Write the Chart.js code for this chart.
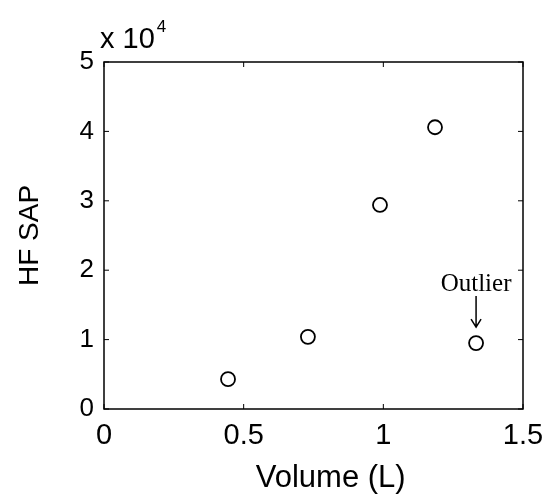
<!DOCTYPE html>
<html>
<head>
<meta charset="utf-8">
<script src="https://cdn.jsdelivr.net/npm/chart.js@4"></script>
<style>
  html, body { margin: 0; padding: 0; background: #fff; }
  #wrap { width: 547px; height: 497px; }
</style>
</head>
<body>
<div id="wrap"><canvas id="sapChart"></canvas></div>
<script>
// HF SAP against volume
var volume = [0.444, 0.730, 0.988, 1.185, 1.332];
var hfSap = [4300, 10400, 29400, 40600, 9500];
var xTicks = [0, 0.5, 1, 1.5];
var yTicks = [0, 1, 2, 3, 4, 5];   // in units of 10^4
var yExponent = 4;
var outlierIndex = 4;
var outlierText = 'Outlier';

var sansFont = "'Liberation Sans', Arial, sans-serif";

// box around the axes plus inward tick marks, MATLAB style
var axesBox = {
  id: 'axesBox',
  afterDraw: function (chart) {
    var c = chart.ctx, a = chart.chartArea;
    var xs = chart.scales.x, ys = chart.scales.y;
    c.save();
    c.strokeStyle = '#000';
    c.lineWidth = 1.5;
    c.strokeRect(a.left, a.top, a.right - a.left, a.bottom - a.top);
    c.lineWidth = 1;
    c.beginPath();
    xTicks.forEach(function (v) {
      var px = xs.getPixelForValue(v);
      c.moveTo(px, a.bottom); c.lineTo(px, a.bottom - 5);
      c.moveTo(px, a.top); c.lineTo(px, a.top + 5);
    });
    yTicks.forEach(function (v) {
      var py = ys.getPixelForValue(v * Math.pow(10, yExponent));
      c.moveTo(a.left, py); c.lineTo(a.left + 5, py);
      c.moveTo(a.right, py); c.lineTo(a.right - 5, py);
    });
    c.stroke();

    // exponent label above the y axis
    c.fillStyle = '#000';
    c.textBaseline = 'alphabetic';
    c.textAlign = 'left';
    c.font = '29px ' + sansFont;
    c.fillText('x 10', a.left - 4, a.top - 14);
    var w = c.measureText('x 10').width;
    c.font = '17px ' + sansFont;
    c.fillText(String(yExponent), a.left - 4 + w + 2, a.top - 30);

    // annotation for the outlying point
    var ox = xs.getPixelForValue(volume[outlierIndex]);
    var oy = ys.getPixelForValue(hfSap[outlierIndex]);
    c.font = '25px "Liberation Serif", "Times New Roman", serif';
    c.textAlign = 'center';
    c.textBaseline = 'middle';
    c.fillText(outlierText, ox, oy - 59);
    c.lineWidth = 1.5;
    c.beginPath();
    c.moveTo(ox, oy - 47);
    c.lineTo(ox, oy - 16);
    c.moveTo(ox - 5, oy - 24);
    c.lineTo(ox, oy - 16);
    c.lineTo(ox + 5, oy - 24);
    c.stroke();
    c.restore();
  }
};

var ctx = document.getElementById('sapChart').getContext('2d');
var chart = new Chart(ctx, {
  type: 'scatter',
  data: {
    datasets: [{
      label: 'HF SAP',
      data: volume.map(function (v, i) { return { x: v, y: hfSap[i] }; }),
      pointStyle: 'circle',
      pointRadius: 7,
      pointHoverRadius: 7,
      borderWidth: 1.8,
      borderColor: '#000',
      backgroundColor: '#fff'
    }]
  },
  options: {
    responsive: true,
    maintainAspectRatio: false,
    animation: false,
    layout: { padding: { top: 62, right: 24, left: 0, bottom: 0 } },
    plugins: {
      legend: { display: false },
      tooltip: { enabled: false }
    },
    scales: {
      x: {
        type: 'linear',
        min: 0,
        max: 1.5,
        afterBuildTicks: function (s) { s.ticks = xTicks.map(function (v) { return { value: v }; }); },
        afterFit: function (s) {
          s.height = 88;
          s.paddingLeft = 0;
          s.paddingRight = 0;
        },
        grid: { display: false, drawTicks: false },
        border: { display: false },
        ticks: {
          color: '#000',
          padding: 10,
          maxRotation: 0,
          font: { family: sansFont, size: 29 },
          callback: function (v) { return String(v); }
        },
        title: {
          display: true,
          text: '    Volume (L)',
          color: '#000',
          font: { family: sansFont, size: 31 },
          padding: { top: 0, bottom: 0 }
        }
      },
      y: {
        type: 'linear',
        min: 0,
        max: 50000,
        afterBuildTicks: function (s) {
          s.ticks = yTicks.map(function (v) { return { value: v * Math.pow(10, yExponent) }; });
        },
        afterFit: function (s) {
          s.width = 104;
          s.paddingTop = 0;
          s.paddingBottom = 0;
        },
        grid: { display: false, drawTicks: false },
        border: { display: false },
        ticks: {
          color: '#000',
          padding: 10,
          font: { family: sansFont, size: 26 },
          callback: function (v) { return String(v / Math.pow(10, yExponent)); }
        },
        title: {
          display: true,
          text: 'HF SAP',
          color: '#000',
          font: { family: sansFont, size: 28 },
          padding: { top: 13, bottom: 0 }
        }
      }
    }
  },
  plugins: [axesBox]
});
</script>
</body>
</html>
